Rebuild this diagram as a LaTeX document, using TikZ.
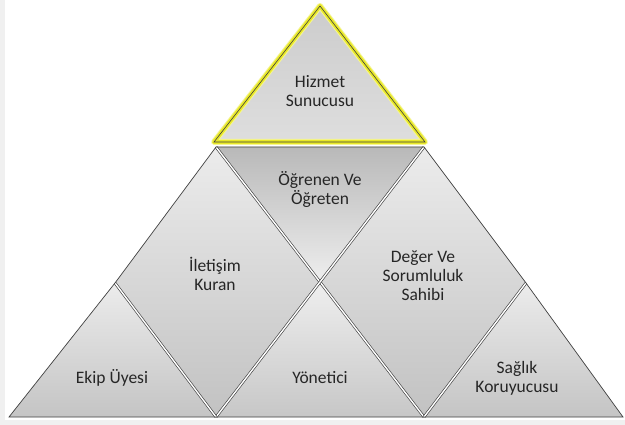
\documentclass[tikz,border=0pt]{standalone}
\usepackage{fontspec}
\setmainfont{Carlito}
\begin{document}
\begin{tikzpicture}[x=1pt,y=-1pt,
  lbl/.style={align=center,font=\fontsize{17.5}{19}\selectfont,text=black!85},
  outer/.style={draw=black!75,line width=0.7pt,line join=miter},
  dbl/.style={draw=black!75,line width=0.65pt,double=white,double distance=1.4pt},
]
\definecolor{hilite}{RGB}{232,232,40}
\definecolor{hiliteglow}{RGB}{245,245,150}
\fill[black!6] (0,0) rectangle (625,425);
\fill[white] (5,0) rectangle (625,420);
\useasboundingbox (0,0) rectangle (625,425);

\coordinate (A)  at (9,417);
\coordinate (B1) at (115,283);
\coordinate (C0) at (216,417);
\coordinate (C2) at (216,147);
\coordinate (D1) at (320,283);
\coordinate (E0) at (424,417);
\coordinate (E2) at (424,147);
\coordinate (F1) at (526,283);
\coordinate (G)  at (623,417);
\coordinate (H0) at (320,6);
\coordinate (HL) at (214,142);
\coordinate (HR) at (425,142);

% fills
\path[top color=gray!15,bottom color=gray!46] (B1)--(A)--(C0)--cycle;
\path[top color=gray!15,bottom color=gray!48] (C2)--(B1)--(C0)--(D1)--cycle;
\path[top color=gray!13,bottom color=gray!44] (D1)--(C0)--(E0)--cycle;
\path[top color=gray!15,bottom color=gray!48] (E2)--(D1)--(E0)--(F1)--cycle;
\path[top color=gray!15,bottom color=gray!46] (F1)--(E0)--(G)--cycle;
\path[top color=gray!55,bottom color=gray!13] (C2)--(E2)--(D1)--cycle;

% separating double lines
\draw[dbl] (C2)--(E0);
\draw[dbl] (E2)--(C0);
\draw[dbl] (B1)--(C0);
\draw[dbl] (F1)--(E0);

% outer outline
\draw[outer] (A)--(B1)--(C2)--(E2)--(F1)--(G)--cycle;

% top triangle
\path[top color=gray!40,bottom color=gray!26] (H0)--(HL)--(HR)--cycle;
\draw[hiliteglow,line width=6pt,line join=round] (H0)--(HL)--(HR)--cycle;
\draw[hilite,line width=4pt,line join=round] (H0)--(HL)--(HR)--cycle;
\draw[black!75,line width=0.6pt,line join=miter] (H0)--(HL)--(HR)--cycle;

% labels
\node[lbl] (hizmet) at (320,91) {Hizmet\\Sunucusu};
\node[lbl] (ogrenen) at (320,189) {Öğrenen Ve\\Öğreten};
\node[lbl] (iletisim) at (215,274) {İletişim\\Kuran};
\node[lbl] (deger) at (423,276) {Değer Ve\\Sorumluluk\\Sahibi};
\node[lbl] (ekip) at (112,378) {Ekip Üyesi};
\node[lbl] (yonetici) at (320,378) {Yönetici};
\node[lbl] (saglik) at (517,378) {Sağlık\\Koruyucusu};
\end{tikzpicture}
\end{document}
